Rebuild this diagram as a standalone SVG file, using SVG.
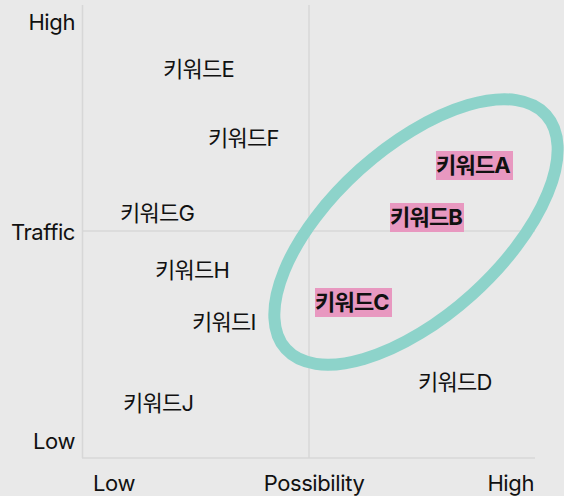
<svg xmlns="http://www.w3.org/2000/svg" width="564" height="496" viewBox="0 0 564 496">
<style>
.ax{font-family:"Inter","Noto Sans CJK KR",sans-serif;font-size:22px;fill:#111;letter-spacing:-0.4px}
.kw{font-family:"Inter","Noto Sans CJK KR",sans-serif;font-size:22px;fill:#111;letter-spacing:-0.7px}
.kb{font-family:"Inter","Noto Sans CJK KR",sans-serif;font-size:22px;font-weight:bold;fill:#111;letter-spacing:-0.8px}
.hl{fill:#e898c0}
.grid{stroke:#d7d7d7;stroke-width:1.5;fill:none}
</style>
<rect width="564" height="496" fill="#e9e9e9"/>
<g id="grid">
<line class="grid" x1="82.5" y1="5" x2="82.5" y2="458"/>
<line class="grid" x1="309" y1="5" x2="309" y2="458"/>
<line class="grid" x1="82" y1="231" x2="535" y2="231"/>
<line class="grid" x1="82" y1="458" x2="535" y2="458"/>
</g>
<g id="labels">
<text class="ax" x="75" y="30" text-anchor="end">High</text>
<text class="ax" x="75" y="240" text-anchor="end">Traffic</text>
<text class="ax" x="75" y="449" text-anchor="end">Low</text>
<text class="ax" x="93" y="491">Low</text>
<text class="ax" x="314" y="491" text-anchor="middle">Possibility</text>
<text class="ax" x="534" y="491" text-anchor="end">High</text>
</g>
<g id="connectors">
<ellipse cx="416" cy="232" rx="175" ry="84" transform="rotate(-42 416 232)" fill="none" stroke="#8dd3ca" stroke-width="12"/>
</g>
<g id="kwE"><text class="kw" x="163" y="77">키워드E</text></g>
<g id="kwF"><text class="kw" x="208" y="146">키워드F</text></g>
<g id="kwG"><text class="kw" x="120" y="221">키워드G</text></g>
<g id="kwH"><text class="kw" x="155" y="278">키워드H</text></g>
<g id="kwI"><text class="kw" x="192" y="330">키워드I</text></g>
<g id="kwJ"><text class="kw" x="123" y="411">키워드J</text></g>
<g id="kwD"><text class="kw" x="418" y="390">키워드D</text></g>
<g id="kwA"><rect class="hl" x="436" y="151" width="77" height="29"/><text class="kb" x="436" y="173">키워드A</text></g>
<g id="kwB"><rect class="hl" x="390" y="203" width="74" height="29"/><text class="kb" x="390" y="225">키워드B</text></g>
<g id="kwC"><rect class="hl" x="315" y="288" width="77" height="29"/><text class="kb" x="315" y="310">키워드C</text></g>
</svg>
